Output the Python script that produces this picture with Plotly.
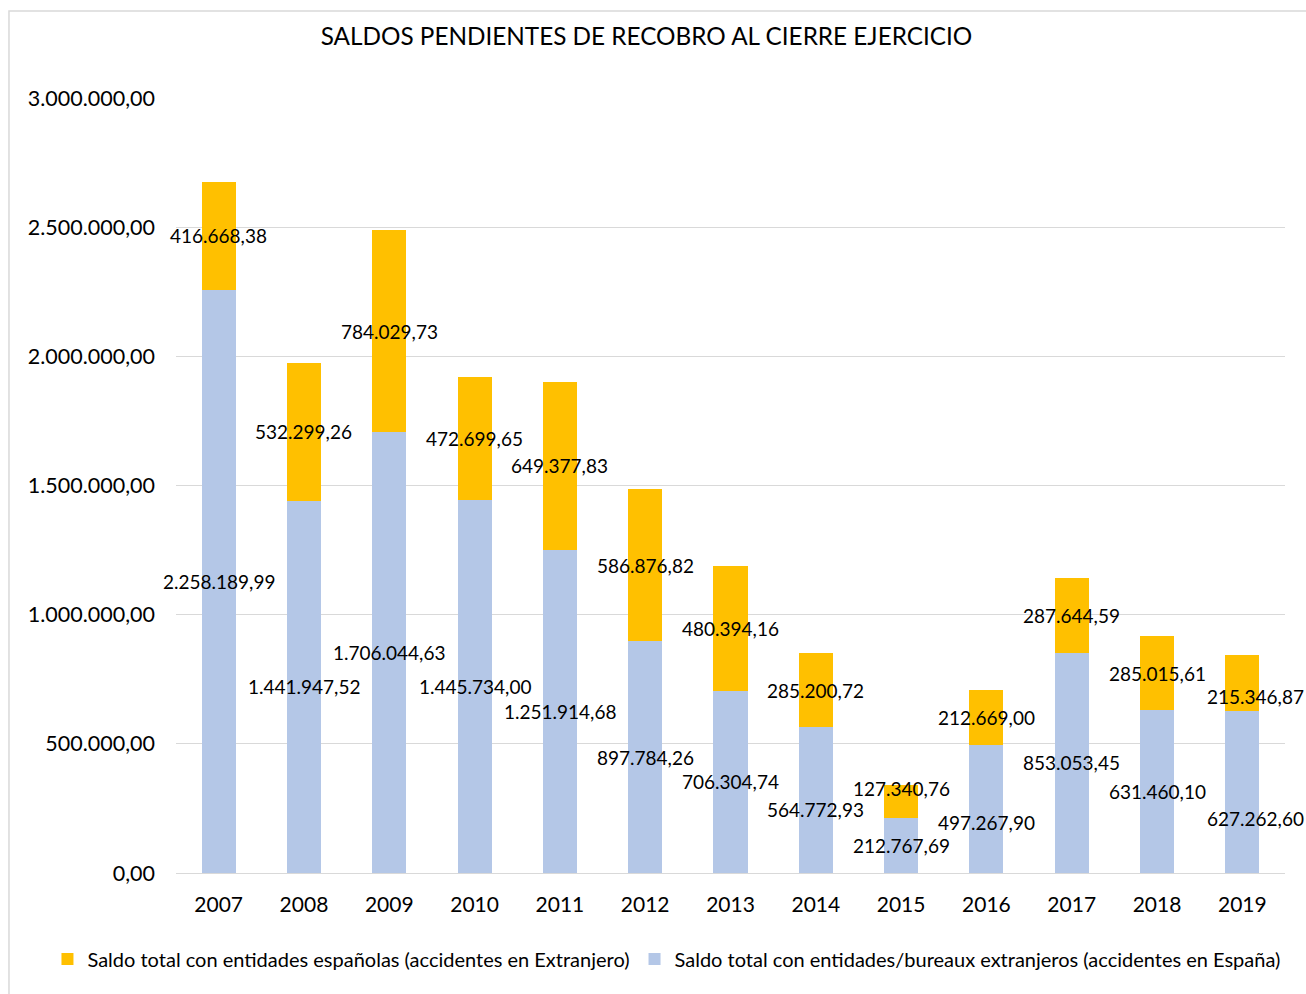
import plotly.graph_objects as go

years = ["2007", "2008", "2009", "2010", "2011", "2012", "2013",
         "2014", "2015", "2016", "2017", "2018", "2019"]
espana = [2258189.99, 1441947.52, 1706044.63, 1445734.00, 1251914.68, 897784.26,
          706304.74, 564772.93, 212767.69, 497267.90, 853053.45, 631460.10, 627262.60]
extranjero = [416668.38, 532299.26, 784029.73, 472699.65, 649377.83, 586876.82,
              480394.16, 285200.72, 127340.76, 212669.00, 287644.59, 285015.61, 215346.87]

name_esp = "Saldo total con entidades/bureaux extranjeros (accidentes en España)"
name_ext = "Saldo total con entidades españolas (accidentes en Extranjero)"
title = "SALDOS PENDIENTES DE RECOBRO AL CIERRE EJERCICIO"

# label nudges (pixels) for manually moved data labels: (series, year) -> (dx, dy)
nudges = {
    ("esp", "2014"): (0, -9),
    ("ext", "2015"): (0, 13),
    ("esp", "2016"): (0, -14),
    ("esp", "2019"): (13, -27),
    ("ext", "2019"): (13, -13),
}

FONT = "Lato"
BLUE = "#B4C7E7"
ORANGE = "#FFC000"


def es_fmt(v):
    s = f"{v:,.2f}"
    return s.replace(",", "X").replace(".", ",").replace("X", ".")


fig = go.Figure()
fig.add_trace(go.Bar(x=years, y=espana, name=name_esp, marker_color=BLUE,
                     marker_line_width=0, hoverinfo="skip"))
fig.add_trace(go.Bar(x=years, y=extranjero, name=name_ext, marker_color=ORANGE,
                     marker_line_width=0, hoverinfo="skip"))

annotations = []
for i, (yr, e, x) in enumerate(zip(years, espana, extranjero)):
    dx, dy = nudges.get(("esp", yr), (0, 0))
    annotations.append(dict(x=i, y=e / 2, text=es_fmt(e), showarrow=False,
                            xshift=dx, yshift=dy,
                            font=dict(family=FONT, size=19, color="#000000")))
    dx, dy = nudges.get(("ext", yr), (0, 0))
    annotations.append(dict(x=i, y=e + x / 2, text=es_fmt(x), showarrow=False,
                            xshift=dx, yshift=dy,
                            font=dict(family=FONT, size=19, color="#000000")))

fig.update_layout(
    width=1306, height=994,
    paper_bgcolor="white", plot_bgcolor="white",
    barmode="stack", bargap=0.6,
    separators=",.",
    margin=dict(l=176, r=21, t=98, b=121, autoexpand=False),
    font=dict(family=FONT, color="#000000"),
    title=dict(text=title, x=0.495, xanchor="center", y=0.963, yanchor="middle",
               font=dict(family=FONT, size=24.3, color="#000000")),
    xaxis=dict(type="category", range=[-0.5, len(years) - 0.5], showgrid=False,
               showline=True, linecolor="#D9D9D9",
               linewidth=1, ticks="", ticklabelstandoff=13,
               tickfont=dict(family=FONT, size=21, color="#000000"),
               fixedrange=True),
    yaxis=dict(range=[0, 3000000], dtick=500000, tickformat=",.2f",
               showgrid=True, gridcolor="#D9D9D9", gridwidth=1, zeroline=False,
               showline=False, ticks="", ticklabelstandoff=20,
               tickfont=dict(family=FONT, size=21.5, color="#000000"),
               fixedrange=True),
    legend=dict(orientation="h", traceorder="reversed",
                x=-0.1159, xanchor="left",
                y=-0.111, yanchor="middle",
                font=dict(family=FONT, size=20, color="#000000"),
                itemwidth=30, bgcolor="rgba(0,0,0,0)"),
    annotations=annotations,
    shapes=[dict(type="rect", xref="paper", yref="paper",
                 x0=-0.1506, x1=1.2, y0=-0.3, y1=1.1123,
                 line=dict(color="#D9D9D9", width=1.5), fillcolor="rgba(0,0,0,0)",
                 layer="below")],
)

fig.write_html("out.html",
               config={"displayModeBar": False},
               post_script="document.body.style.margin='0';"
                           "document.body.style.overflow='hidden';")
